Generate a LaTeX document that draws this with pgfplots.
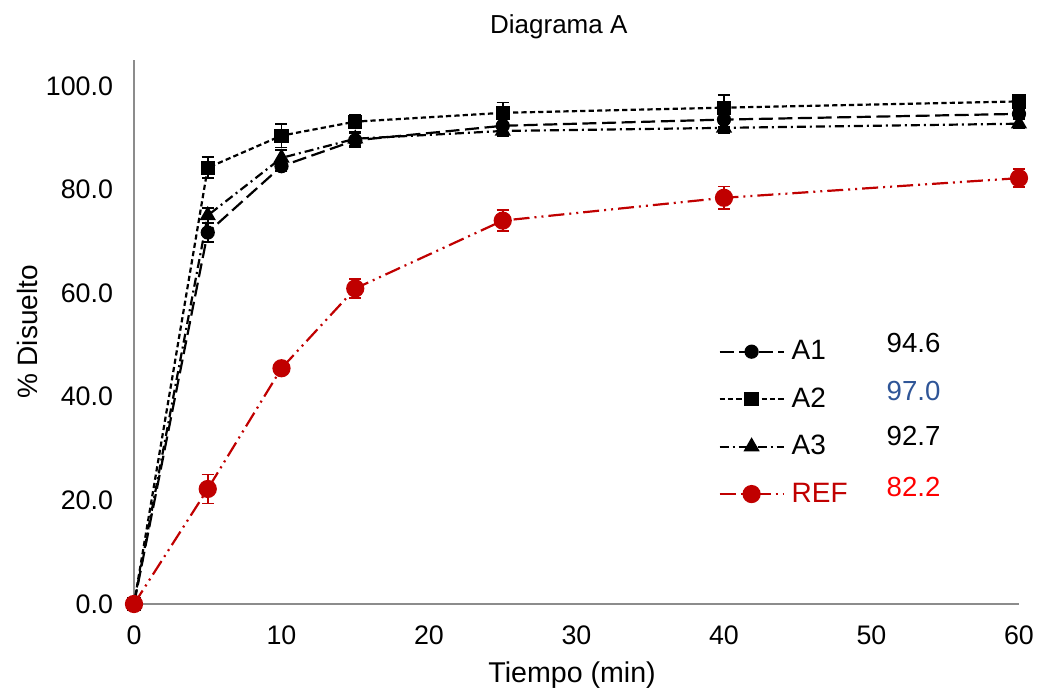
\documentclass[border=0pt]{standalone}
\usepackage{pgfplots}
\pgfplotsset{compat=1.18}
\usepackage{fontspec}
\setmainfont{Liberation Sans}
\definecolor{refred}{HTML}{C00000}
\definecolor{valblue}{HTML}{2F5597}
\definecolor{axisgray}{HTML}{8C8C8C}
\begin{document}
\begin{tikzpicture}
\useasboundingbox (-67pt,-43pt) rectangle (452.5pt,302pt);
\begin{axis}[
  scale only axis,
  width=442.5pt, height=272pt,
  at={(0,0)}, anchor=south west,
  xmin=0, xmax=60, ymin=0, ymax=105,
  axis x line=bottom, axis y line=left,
  axis line style={-, draw=axisgray, line width=0.8pt},
  major tick length=0pt,
  xtick={0,10,...,60},
  ytick={0,20,...,100},
  /pgf/number format/assume math mode=true,
  tick label style={font=\fontsize{13.4}{15}\selectfont},
  xticklabel style={yshift=-7.5pt},
  yticklabel style={xshift=-7pt, /pgf/number format/fixed, /pgf/number format/fixed zerofill, /pgf/number format/precision=1},
  xlabel={Tiempo (min)},
  ylabel={\% Disuelto},
  every axis x label/.style={at={(axis description cs:0.495,-0.1305)}, anchor=center, font=\fontsize{14.3}{16}\selectfont},
  every axis y label/.style={at={(axis description cs:-0.12,0.5)}, rotate=90, anchor=center, font=\fontsize{14}{16}\selectfont},
  title={Diagrama A},
  title style={font=\fontsize{13}{15}\selectfont, at={(axis description cs:0.48,1.039)}, anchor=center},
  clip=false,
  legend style={draw=none, fill=none, at={(0.66,0.485)}, anchor=north west,
    font=\fontsize{14}{16}\selectfont, row sep=12.5pt, inner sep=0pt,
    nodes={inner xsep=3.5pt, inner ysep=0pt}},
  legend cell align=left,
  legend image code/.code={\draw[mark repeat=2,mark phase=2] plot coordinates {(0pt,0pt)(16pt,0pt)(32pt,0pt)};},
  every axis plot/.append style={line width=1.1pt},
  error bars/error bar style={solid, line width=0.9pt},
  error bars/error mark options={rotate=90, mark size=3pt, line width=0.9pt},
]
% A1: long dashes, circles
\addplot[black, dash pattern=on 7pt off 2.8pt, mark=*, mark size=3pt, mark options={solid},
  error bars/.cd, y dir=both, y explicit]
  table[x=t, y=v, y error=e] {
  t  v     e
  0  0.0   0.0
  5  71.7  1.8
  10 84.5  1.0
  15 89.5  1.3
  25 92.3  1.5
  40 93.5  1.5
  60 94.6  1.0
};
\addlegendentry{A1}
% A2: short dashes, squares
\addplot[black, dash pattern=on 2.6pt off 1.6pt, mark=square*, mark size=3pt, mark options={solid},
  error bars/.cd, y dir=both, y explicit]
  table[x=t, y=v, y error=e] {
  t  v     e
  0  0.0   0.0
  5  84.2  2.0
  10 90.4  2.3
  15 93.1  1.3
  25 94.8  2.0
  40 95.8  2.5
  60 97.0  0.8
};
\addlegendentry{A2}
% A3: dash-dot, triangles
\addplot[black, dash pattern=on 4.5pt off 2pt on 1pt off 2pt, mark=triangle*, mark size=3.6pt, mark options={solid},
  error bars/.cd, y dir=both, y explicit]
  table[x=t, y=v, y error=e] {
  t  v     e
  0  0.0   0.0
  5  75.0  1.5
  10 86.1  1.5
  15 89.8  1.3
  25 91.3  1.0
  40 91.9  1.0
  60 92.7  0.8
};
\addlegendentry{A3}
% REF: dash-dot-dot, red circles
\addplot[refred, dash pattern=on 8pt off 2.5pt on 1pt off 2.5pt on 1pt off 2.5pt, mark=*, mark size=4pt, mark options={solid},
  error bars/.cd, y dir=both, y explicit]
  table[x=t, y=v, y error=e] {
  t  v     e
  0  0.0   0.0
  5  22.2  2.8
  10 45.5  0.8
  15 60.9  1.8
  25 74.0  2.0
  40 78.4  2.2
  60 82.2  1.7
};
\addlegendentry{\textcolor{refred}{REF}}
% final dissolution values beside the legend
\node[anchor=west, font=\fontsize{13.8}{15}\selectfont] at (axis cs:50.55,50.3) {94.6};
\node[anchor=west, font=\fontsize{13.8}{15}\selectfont, text=valblue] at (axis cs:50.55,41.2) {97.0};
\node[anchor=west, font=\fontsize{13.8}{15}\selectfont] at (axis cs:50.55,32.4) {92.7};
\node[anchor=west, font=\fontsize{13.8}{15}\selectfont, text=red] at (axis cs:50.55,22.5) {82.2};
\end{axis}
\end{tikzpicture}
\end{document}
